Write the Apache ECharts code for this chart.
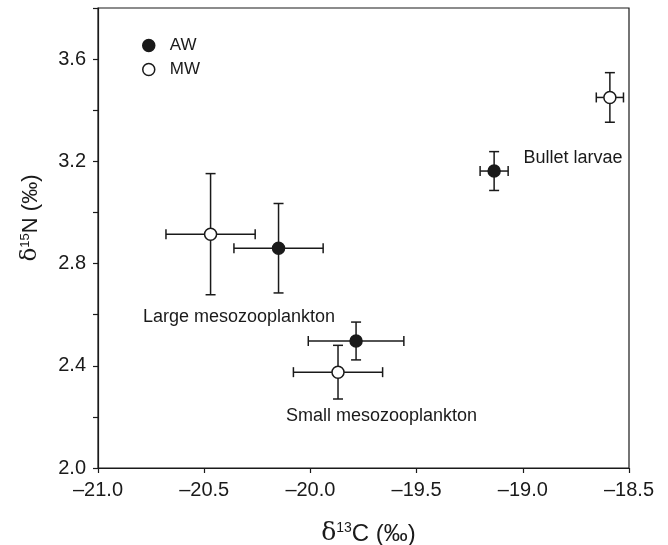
<!DOCTYPE html>
<html>
<head>
<meta charset="utf-8">
<script src="https://cdn.jsdelivr.net/npm/echarts@6/dist/echarts.min.js"></script>
<style>
  html, body { margin: 0; padding: 0; background: #fff; }
  #chart { width: 668px; height: 545px; }
</style>
</head>
<body>
<div id="chart"></div>
<script>
// Stable isotope means (δ13C, δ15N) with ± error for each group and water mass
const groups = ['Large mesozooplankton', 'Small mesozooplankton', 'Bullet larvae'];

const awC    = [-20.15, -19.785, -19.135];
const awCerr = [0.21, 0.225, 0.066];
const awN    = [2.86, 2.497, 3.162];
const awNerr = [0.175, 0.074, 0.076];

const mwC    = [-20.47, -19.87, -18.59];
const mwCerr = [0.21, 0.21, 0.064];
const mwN    = [2.915, 2.375, 3.45];
const mwNerr = [0.237, 0.105, 0.097];

// Group label anchors (data coordinates)
const labelC = [-20.336, -19.665, -18.764];
const labelN = [2.59, 2.203, 3.213];

const xTicks = [-21.0, -20.5, -20.0, -19.5, -19.0, -18.5];
const yLabelTicks = [2.0, 2.4, 2.8, 3.2, 3.6];

const INK = '#1a1a1a';
const FONT = '"Liberation Sans", Arial, Helvetica, sans-serif';
const SERIF = '"DejaVu Serif", "Liberation Serif", serif';

function errRows(c, ce, n, ne) {
  return c.map((v, i) => [v, n[i], ce[i], ne[i]]);
}

function errorBarItem(params, api) {
  const x = api.value(0), y = api.value(1), ex = api.value(2), ey = api.value(3);
  const l = api.coord([x - ex, y]), r = api.coord([x + ex, y]);
  const t = api.coord([x, y + ey]), b = api.coord([x, y - ey]);
  const cap = 5;
  const style = { stroke: INK, lineWidth: 1.5, fill: null };
  const seg = (x1, y1, x2, y2) => ({ type: 'line', shape: { x1, y1, x2, y2 }, style });
  return {
    type: 'group',
    children: [
      seg(l[0], l[1], r[0], r[1]),
      seg(l[0], l[1] - cap, l[0], l[1] + cap),
      seg(r[0], r[1] - cap, r[0], r[1] + cap),
      seg(t[0], t[1], b[0], b[1]),
      seg(t[0] - cap, t[1], t[0] + cap, t[1]),
      seg(b[0] - cap, b[1], b[0] + cap, b[1])
    ]
  };
}

function isoName(size, lh) {
  return {
    d: { fontFamily: SERIF, fontSize: size + 1, color: INK, verticalAlign: 'bottom', lineHeight: lh },
    s: { fontFamily: FONT, fontSize: Math.round(size * 0.58), color: INK, verticalAlign: 'top', lineHeight: lh, padding: [3, 0, 0, 0] },
    n: { fontFamily: FONT, fontSize: size, color: INK, verticalAlign: 'bottom', lineHeight: lh }
  };
}

const chart = echarts.init(document.getElementById('chart'), null, { renderer: 'canvas' });

chart.setOption({
  animation: false,
  backgroundColor: '#fff',
  textStyle: { fontFamily: FONT, color: INK },
  grid: {
    left: 98, right: 39, top: 8, bottom: 77,
    containLabel: false, outerBoundsMode: 'none',
    show: true, borderColor: INK, borderWidth: 1.2
  },
  legend: {
    orient: 'vertical',
    left: 142, top: 37, padding: 0,
    itemWidth: 12, itemHeight: 12, itemGap: 7,
    textStyle: { fontSize: 17, color: INK, fontFamily: FONT, padding: [0, 0, 0, 10] },
    data: [
      { name: 'AW', icon: 'circle', itemStyle: { color: INK, borderColor: INK, borderWidth: 1.5 } },
      { name: 'MW', icon: 'circle', itemStyle: { color: '#fff', borderColor: INK, borderWidth: 1.5 } }
    ]
  },
  xAxis: {
    type: 'value',
    min: -21, max: -18.5, interval: 0.5,
    name: '{d|δ}{s|13}{n|C (‰)}',
    nameLocation: 'middle', nameGap: 50,
    nameTextStyle: { padding: [0, 0, 0, 10], rich: isoName(24, 28) },
    axisLine: { show: true, lineStyle: { color: INK, width: 1.2 } },
    axisTick: { show: true, length: 5, lineStyle: { color: INK, width: 1.2 } },
    axisLabel: {
      fontSize: 20, color: INK, fontFamily: FONT, margin: 12,
      formatter: v => {
        const t = xTicks.find(k => Math.abs(k - v) < 1e-6);
        if (t === undefined) return '';
        return '\u2013' + Math.abs(t).toFixed(1);
      }
    },
    splitLine: { show: false }
  },
  yAxis: {
    type: 'value',
    min: 2.0, max: 3.8, interval: 0.2,
    name: '{d|δ}{s|15}{n|N (‰)}',
    nameLocation: 'middle', nameGap: 56, nameRotate: 90,
    nameTextStyle: { padding: [0, 0, 0, 40], rich: isoName(22, 26) },
    axisLine: { show: true, lineStyle: { color: INK, width: 1.2 } },
    axisTick: { show: true, length: 5, lineStyle: { color: INK, width: 1.2 } },
    axisLabel: {
      fontSize: 20, color: INK, fontFamily: FONT, margin: 12,
      formatter: v => {
        const t = yLabelTicks.find(k => Math.abs(k - v) < 1e-6);
        return t === undefined ? '' : t.toFixed(1);
      }
    },
    splitLine: { show: false }
  },
  series: [
    {
      name: 'AW-err', type: 'custom', renderItem: errorBarItem, z: 2,
      data: errRows(awC, awCerr, awN, awNerr), silent: true
    },
    {
      name: 'MW-err', type: 'custom', renderItem: errorBarItem, z: 2,
      data: errRows(mwC, mwCerr, mwN, mwNerr), silent: true
    },
    {
      name: 'AW', type: 'scatter', symbol: 'circle', symbolSize: 12, z: 5,
      itemStyle: { color: INK, borderColor: INK, borderWidth: 1.5, opacity: 1 },
      data: awC.map((c, i) => [c, awN[i]])
    },
    {
      name: 'MW', type: 'scatter', symbol: 'circle', symbolSize: 12, z: 5,
      itemStyle: { color: '#fff', borderColor: INK, borderWidth: 1.5, opacity: 1 },
      data: mwC.map((c, i) => [c, mwN[i]])
    },
    {
      name: 'labels', type: 'scatter', symbolSize: 0, z: 6, silent: true,
      itemStyle: { opacity: 1 },
      label: {
        show: true, position: 'inside', formatter: p => p.name,
        fontSize: 18, color: INK, fontFamily: FONT, opacity: 1
      },
      data: groups.map((g, i) => ({ name: g, value: [labelC[i], labelN[i]] }))
    }
  ]
});
</script>
</body>
</html>
